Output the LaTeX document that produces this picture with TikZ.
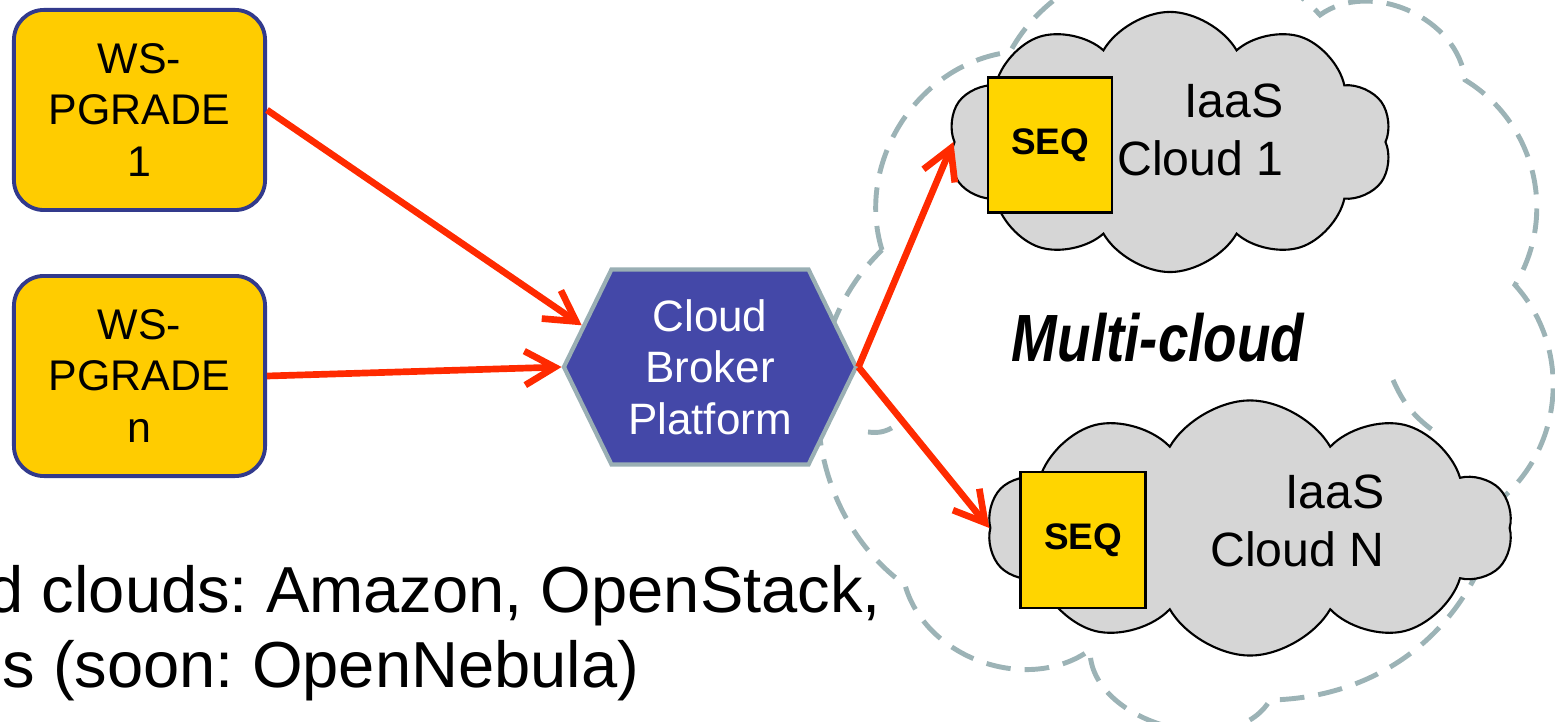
\documentclass[tikz,border=0pt]{standalone}
\usepackage{fontspec}
\setmainfont{Liberation Sans}
\usepackage{graphicx}
\frenchspacing
\definecolor{wsgold}{HTML}{FFCC00}
\definecolor{wsnavy}{HTML}{323A8C}
\definecolor{broker}{HTML}{4448A8}
\definecolor{brokeredge}{HTML}{9AAFB4}
\definecolor{seqgold}{HTML}{FFD500}
\definecolor{cloudgray}{HTML}{D6D6D6}
\definecolor{mcdash}{HTML}{9CB3B6}
\definecolor{arrred}{HTML}{FF2A00}
\usetikzlibrary{shapes.symbols,arrows.meta,positioning}

\begin{document}
\begin{tikzpicture}[x=0.01cm,y=0.01cm,
  wsbox/.style={rectangle,rounded corners=0.3cm,draw=wsnavy,line width=1.1pt,
                fill=wsgold,minimum width=2.51cm,minimum height=2cm,align=center,
                font=\fontsize{12.2pt}{14.6pt}\selectfont},
  iaas/.style={cloud,cloud puffs=10,cloud puff arc=120,cloud ignores aspect,
               draw=black,line width=0.6pt,fill=cloudgray},
  seqbox/.style={rectangle,draw=black,line width=0.8pt,fill=seqgold,
                 font=\fontsize{10.5pt}{12pt}\selectfont\bfseries},
  cloudtext/.style={align=right,inner sep=0pt,
                    font=\fontsize{13.7pt}{16.5pt}\selectfont},
  bigtext/.style={anchor=base west,inner sep=0pt,
                  font=\fontsize{18.5pt}{21pt}\selectfont},
  arr/.style={-{Straight Barb[length=3mm,width=3.4mm]},line width=1.9pt,color=arrred},
  mcline/.style={dash pattern=on 7pt off 4pt,line width=1.4pt,color=mcdash}
]
  \useasboundingbox (0,0) rectangle (1555,722);

  % Multi-cloud (dashed)
  \draw[mcline] (882,472) to[bend left=50] (1010,670) to[bend left=55] (1320,707)
    to[bend left=60] (1465,642) to[bend left=45] (1515,437) to[bend left=46] (1500,222)
    to[bend left=40] (1270,22) to[bend left=75] (1090,72) to[bend left=55] (905,137)
    to[bend left=50] (882,472);
  \draw[mcline] (1393,342) to[bend right=15] (1435,290);
  \draw[mcline] (868,290) to[bend right=20] (895,296);

  % IaaS clouds
  \node[iaas,minimum width=4.44cm,minimum height=2.6cm] (c1) at (1170,580) {};
  \node[iaas,minimum width=5.24cm,minimum height=2.55cm] (cn) at (1250,194) {};

  % SEQ
  \node[seqbox,minimum width=1.24cm,minimum height=1.35cm] (seq1) at (1050,577) {SEQ};
  \node[seqbox,minimum width=1.25cm,minimum height=1.36cm] (seqn) at (1083,182) {SEQ};

  \node[cloudtext,anchor=east] (t1) at (1284,592) {IaaS\\Cloud 1};
  \node[cloudtext,anchor=east] (tn) at (1385,201) {IaaS\\Cloud N};

  \node[font=\fontsize{19pt}{22pt}\selectfont\bfseries\itshape] (mc) at (1158,384)
    {\scalebox{0.82}[1]{Multi-cloud}};

  % Broker
  \node[signal,signal to=east and west,signal pointer angle=128,
        draw=brokeredge,line width=1.2pt,fill=broker,text=white,
        minimum width=2.92cm,minimum height=1.95cm,align=center,
        font=\fontsize{12.5pt}{14.6pt}\selectfont]
    (cbp) at (710,355) {Cloud\\Broker\\Platform};

  % WS-PGRADE
  \node[wsbox] (ws1) at (139.5,612) {WS-\\PGRADE\\1};
  \node[wsbox,below=0.62cm of ws1] (wsn) {WS-\\PGRADE\\n};

  % Fleches
  \draw[arr] (ws1.east) -- (cbp.162);
  \draw[arr] (wsn.east) -- (cbp.west);
  \draw[arr] (cbp.east) -- (c1.west);
  \draw[arr] (cbp.east) -- (cn.west);

  % Texte
  \node[bigtext] (sup1) at (-13,109) {d clouds: Amazon, OpenStack,};
  \node[bigtext] (sup2) at (2,34) {s (soon: OpenNebula)};

\end{tikzpicture}
\end{document}
